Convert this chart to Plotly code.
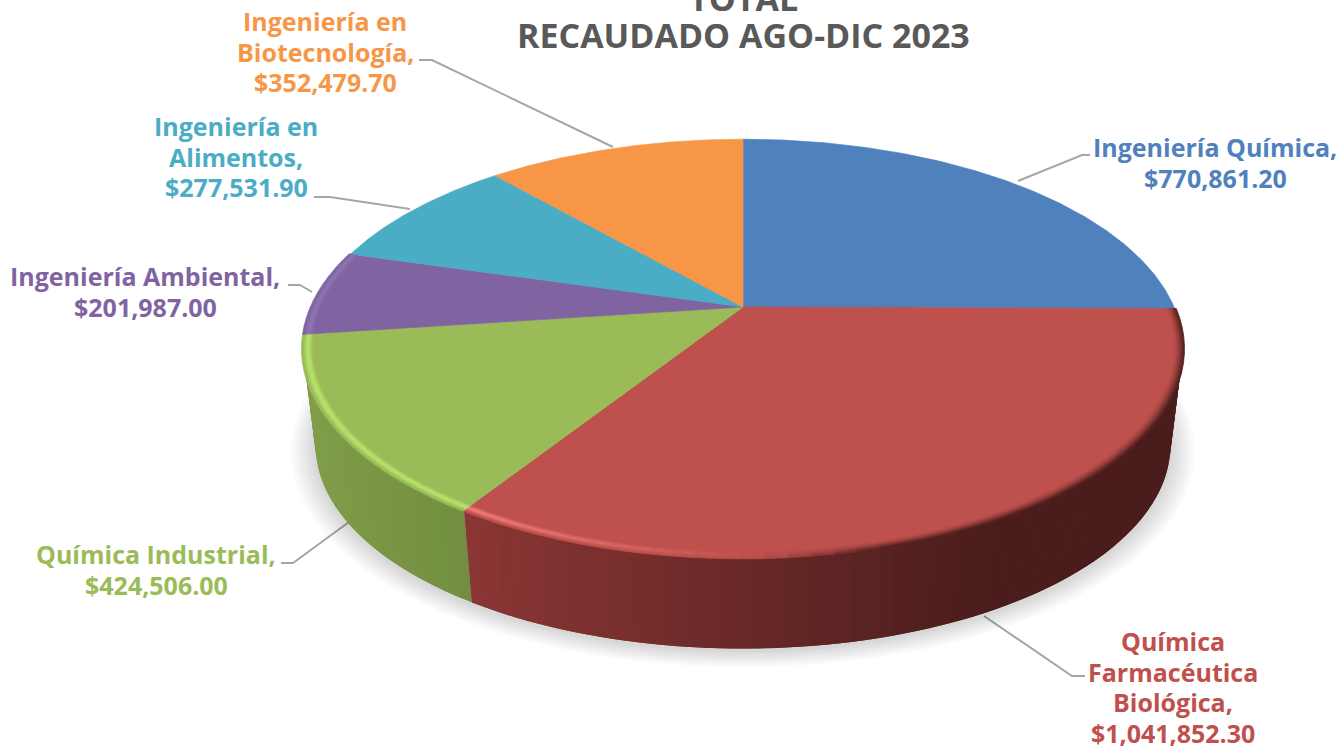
import numpy as np
import plotly.graph_objects as go

# ---- data ----
categories = ["Ingeniería Química", "Química Farmacéutica Biológica", "Química Industrial",
              "Ingeniería Ambiental", "Ingeniería en Alimentos", "Ingeniería en Biotecnología"]
values = [770861.20, 1041852.30, 424506.00, 201987.00, 277531.90, 352479.70]
label_lines = [["Ingeniería Química,"], ["Química", "Farmacéutica", "Biológica,"], ["Química Industrial,"],
               ["Ingeniería Ambiental,"], ["Ingeniería en", "Alimentos,"], ["Ingeniería en", "Biotecnología,"]]
title_lines = ["TOTAL", "RECAUDADO AGO-DIC 2023"]

# ---- styling ----
colors = ["#4f81bd", "#be504d", "#9bbb59", "#8064a2", "#4bacc6", "#f79646"]
text_colors = ["#4f81bd", "#c0504d", "#9bbb59", "#8064a2", "#4bacc6", "#f79646"]
FONT = "Open Sans"
LABEL_SIZE = 25
LINE_STEP = 30.7
label_pos = [(1215, 147), (1173, 641), (156, 554), (145, 276), (236, 126), (325, 21)]
leaders = [[(1018, 181), (1082, 155), (1090, 155)],
           [(984, 616), (1072, 676), (1085, 676)],
           [(349, 522), (293, 563), (281, 563)],
           [(312, 292), (300, 285), (288, 285)],
           [(410, 209), (330, 197), (314, 197)],
           [(613, 147), (432, 60), (419, 60)]]

# ---- projection of the tilted pie ----
CX, CY, A, B, K = 743.0, 307.0, 431.0, 201.0, 0.198
S_BOTTOM, DY_BOTTOM = 0.972, 98.0


def top(theta, r=1.0):
    """theta clockwise from 12 o'clock, radians."""
    u, v = r * np.sin(theta), r * np.cos(theta)
    w = 1 + K * v
    return CX + A * u / w, CY - B * v / w


def bottom(theta, r=1.0, dy=0.0):
    x, y = top(theta, r)
    return CX + S_BOTTOM * (x - CX), CY + DY_BOTTOM + dy + S_BOTTOM * (y - CY)


def rgb(h):
    return np.array([int(h[i:i + 2], 16) for i in (1, 3, 5)], float)


def mix(c1, c2, t):
    t = float(np.clip(t, 0, 1))
    c = (1 - t) * rgb(c1) + t * rgb(c2)
    return "rgb(%d,%d,%d)" % tuple(c.round())


fig = go.Figure()


def poly(xs, ys, color, seam=True):
    fig.add_trace(go.Scatter(
        x=list(xs), y=list(ys), mode="lines", fill="toself", fillcolor=color,
        line=dict(color=color if seam else "rgba(0,0,0,0)", width=0.7),
        hoverinfo="skip", showlegend=False))


total = sum(values)
edges = np.concatenate([[0], np.cumsum(values)]) / total * 2 * np.pi

# soft shadow below the disc
ring = np.linspace(0, 2 * np.pi, 240)
for r in np.linspace(1.055, 1.005, 10):
    x, y = bottom(ring, r, dy=2)
    poly(x, y, "rgba(0,0,0,0.014)", seam=False)

# side wall, drawn as many thin overlapping facets so that it shades along the rim
wall_shade = {1: (("#8b3634", 470), ("#4a1d1c", 1000)),
              2: (("#809d49", 310), ("#728d40", 470))}
for idx in (2, 1):
    (c0, x0), (c1, x1) = wall_shade[idx]
    a0, a1 = edges[idx], edges[idx + 1]
    lo = max(a0, np.radians(70))
    hi = min(a1, np.radians(290))
    th = np.linspace(lo, hi, int((hi - lo) / np.radians(1.5)) + 2)
    step = th[1] - th[0]
    for t0 in th[:-1]:
        t1 = min(t0 + 2 * step, hi)
        xa, ya = top(t0)
        xb, yb = top(t1)
        xc, yc = bottom(t1)
        xd, yd = bottom(t0)
        col = mix(c0, c1, (xa - x0) / (x1 - x0))
        poly([xa, xb, xc, xd, xa], [ya, yb, yc, yd, ya], col, seam=False)

# top faces
for i, c in enumerate(colors):
    th = np.linspace(edges[i], edges[i + 1], 160)
    x, y = top(th)
    poly(np.r_[CX, x, CX], np.r_[CY, y, CY], c)

RADII = np.linspace(0.980, 1.004, 7)


def rim(idx, color_fn):
    """Bevel strip on the outer edge of a slice."""
    th = np.linspace(edges[idx], edges[idx + 1], int((edges[idx + 1] - edges[idx]) / np.radians(2.5)) + 2)
    for t0, t1 in zip(th[:-1], th[1:]):
        xm, _ = top((t0 + t1) / 2)
        for j, (r0, r1) in enumerate(zip(RADII[:-1], RADII[1:])):
            frac = (j + 0.5) / (len(RADII) - 1)
            xa, ya = top(t0, r0)
            xb, yb = top(t1, r0)
            xc, yc = top(t1, r1)
            xd, yd = top(t0, r1)
            poly([xa, xb, xc, xd, xa], [ya, yb, yc, yd, ya], color_fn(xm, frac))


def bell(f):
    return float(np.sin(np.pi * min(f * 1.15, 1)) ** 1.2)


def red_rim(x, f):
    if x < 760:
        return mix(colors[1], "#f27c76", bell(f) * (1 - (x - 470) / 290))
    return mix(colors[1], "#4a1d1c", f ** 1.5 * min((x - 760) / 120, 1))


rim(1, red_rim)
rim(2, lambda x, f: mix(colors[2], "#b6e26c", bell(f)))
rim(3, lambda x, f: mix(colors[3], "#9580bb", 0.6 * bell(f)))

# ---- texts ----
ann = []
for lines, v, c, (px, py) in zip(label_lines, values, text_colors, label_pos):
    for n, line in enumerate(lines + [f"${v:,.2f}"]):
        ann.append(dict(x=px, y=py + n * LINE_STEP, xref="x", yref="y", showarrow=False,
                        text=f"<b>{line}</b>", align="center", xanchor="center", yanchor="middle",
                        font=dict(family=FONT, size=LABEL_SIZE, color=c)))
for line, ty, shift in zip(title_lines, (0, 35), (2, 0)):
    ann.append(dict(x=743, y=ty, yshift=shift, xref="x", yref="y", showarrow=False, text=f"<b>{line}</b>",
                    align="center", xanchor="center", yanchor="middle",
                    font=dict(family=FONT, size=34, color="#595959")))

shapes = []
for pts in leaders:
    path = "M " + " L ".join(f"{a},{b}" for a, b in pts)
    shapes.append(dict(type="path", path=path, xref="x", yref="y", layer="below",
                       line=dict(color="#a6a6a6", width=2)))

fig.update_layout(
    width=1342, height=749, autosize=False,
    margin=dict(l=0, r=0, t=0, b=0),
    paper_bgcolor="white", plot_bgcolor="white", showlegend=False,
    xaxis=dict(range=[0, 1342], visible=False, fixedrange=True),
    yaxis=dict(range=[749, 0], visible=False, fixedrange=True),
    annotations=ann, shapes=shapes,
)
fig.write_html("out.html", config={"displayModeBar": False},
               post_script="document.body.style.margin='0';document.body.style.overflow='hidden';")
